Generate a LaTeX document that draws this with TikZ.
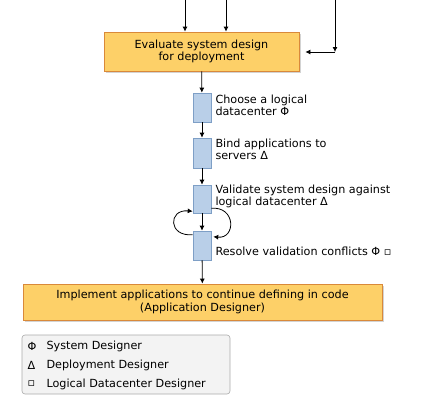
\documentclass[tikz,border=0pt]{standalone}
\usepackage{fontspec}
\setmainfont{DejaVu Sans}
\usetikzlibrary{arrows.meta,shadows}
\definecolor{taskfill}{HTML}{FDD068}
\definecolor{taskline}{HTML}{D9893A}
\definecolor{stepfill}{HTML}{B9CFE8}
\definecolor{stepline}{HTML}{7E9FC6}
\definecolor{legfill}{HTML}{F3F3F3}
\definecolor{legline}{HTML}{AAAAAA}
\tikzset{
  task/.style={draw=taskline, fill=taskfill, line width=0.8pt, align=center,
    drop shadow={shadow xshift=1.5pt, shadow yshift=-1.5pt, opacity=0.35}},
  stepbox/.style={draw=stepline, fill=stepfill, line width=0.6pt,
    minimum width=18pt, inner sep=0pt},
  label/.style={anchor=north west, align=left, inner sep=0pt},
  arr/.style={-{Latex[length=5pt,width=5pt]}, line width=0.8pt}
}
\begin{document}
\begin{tikzpicture}[x=1pt,y=-1pt,font=\fontsize{11.2}{12.5}\selectfont]
\useasboundingbox (0,0) rectangle (440,400);
\def\midx{202}
% tasks
\node[task, minimum width=195pt, minimum height=39pt] (eval) at (201.5,51.5)
  {Evaluate system design\\for deployment};
\node[task, minimum width=359pt, minimum height=36pt] (impl) at (202.5,302)
  {Implement applications to continue defining in code\\(Application Designer)};
% steps
\node[stepbox, minimum height=29pt] (choose) at (\midx,107.5) {};
\node[stepbox, minimum height=30pt] (bind) at (\midx,153) {};
\node[stepbox, minimum height=28pt] (validate) at (\midx,199) {};
\node[stepbox, minimum height=29pt] (resolve) at (\midx,245.5) {};
\node[label] (lchoose) at ([xshift=4pt,yshift=-2pt]choose.north east)
  {Choose a logical\\datacenter Φ};
\node[label] (lbind) at ([xshift=4pt,yshift=-1pt]bind.north east)
  {Bind applications to\\servers Δ};
\node[label] (lvalidate) at ([xshift=4pt,yshift=0pt]validate.north east)
  {Validate system design against\\logical datacenter Δ};
\node[label, anchor=west] (lresolve) at ([xshift=4pt,yshift=-6pt]resolve.east)
  {Resolve validation conflicts Φ ▫};
% inputs
\coordinate (in1) at (185,0);
\coordinate (in2) at (226,0);
\coordinate (in3) at (335,0);
\coordinate (turn) at (335,52);
\draw[arr] (in1) -- (in1 |- eval.north);
\draw[arr] (in2) -- (in2 |- eval.north);
\draw[arr] (in3) -- (turn);
\draw[arr] (turn) -- ([xshift=6pt]eval.east |- turn);
% flow
\draw[arr] (eval) -- (choose);
\draw[arr] (choose) -- (bind);
\draw[arr] (bind) -- (validate);
\draw[arr] (validate) -- (resolve);
\draw[arr] (resolve) -- (impl);
% loop
\draw[arr] ([yshift=-4pt]resolve.north west) .. controls (168,237) and (168,209) .. ([yshift=2pt]validate.south west);
\draw[arr] ([yshift=5pt]validate.south east) .. controls (236,206) and (236,239) .. ([xshift=2pt,yshift=-6pt]resolve.north east);
% legend
\node[draw=legline, fill=legfill, rounded corners=3pt, line width=0.6pt,
  minimum width=208pt, minimum height=59pt, inner sep=0pt] (legend) at (126,364.5) {};
\node[anchor=west] (lphi) at (24,346) {Φ};
\node[anchor=west] (tphi) at (43,346) {System Designer};
\node[anchor=west] (ldelta) at (24,365) {Δ};
\node[anchor=west] (tdelta) at (43,365) {Deployment Designer};
\node[anchor=west] (lsq) at (24,384) {▫};
\node[anchor=west] (tsq) at (43,384) {Logical Datacenter Designer};
\end{tikzpicture}
\end{document}
